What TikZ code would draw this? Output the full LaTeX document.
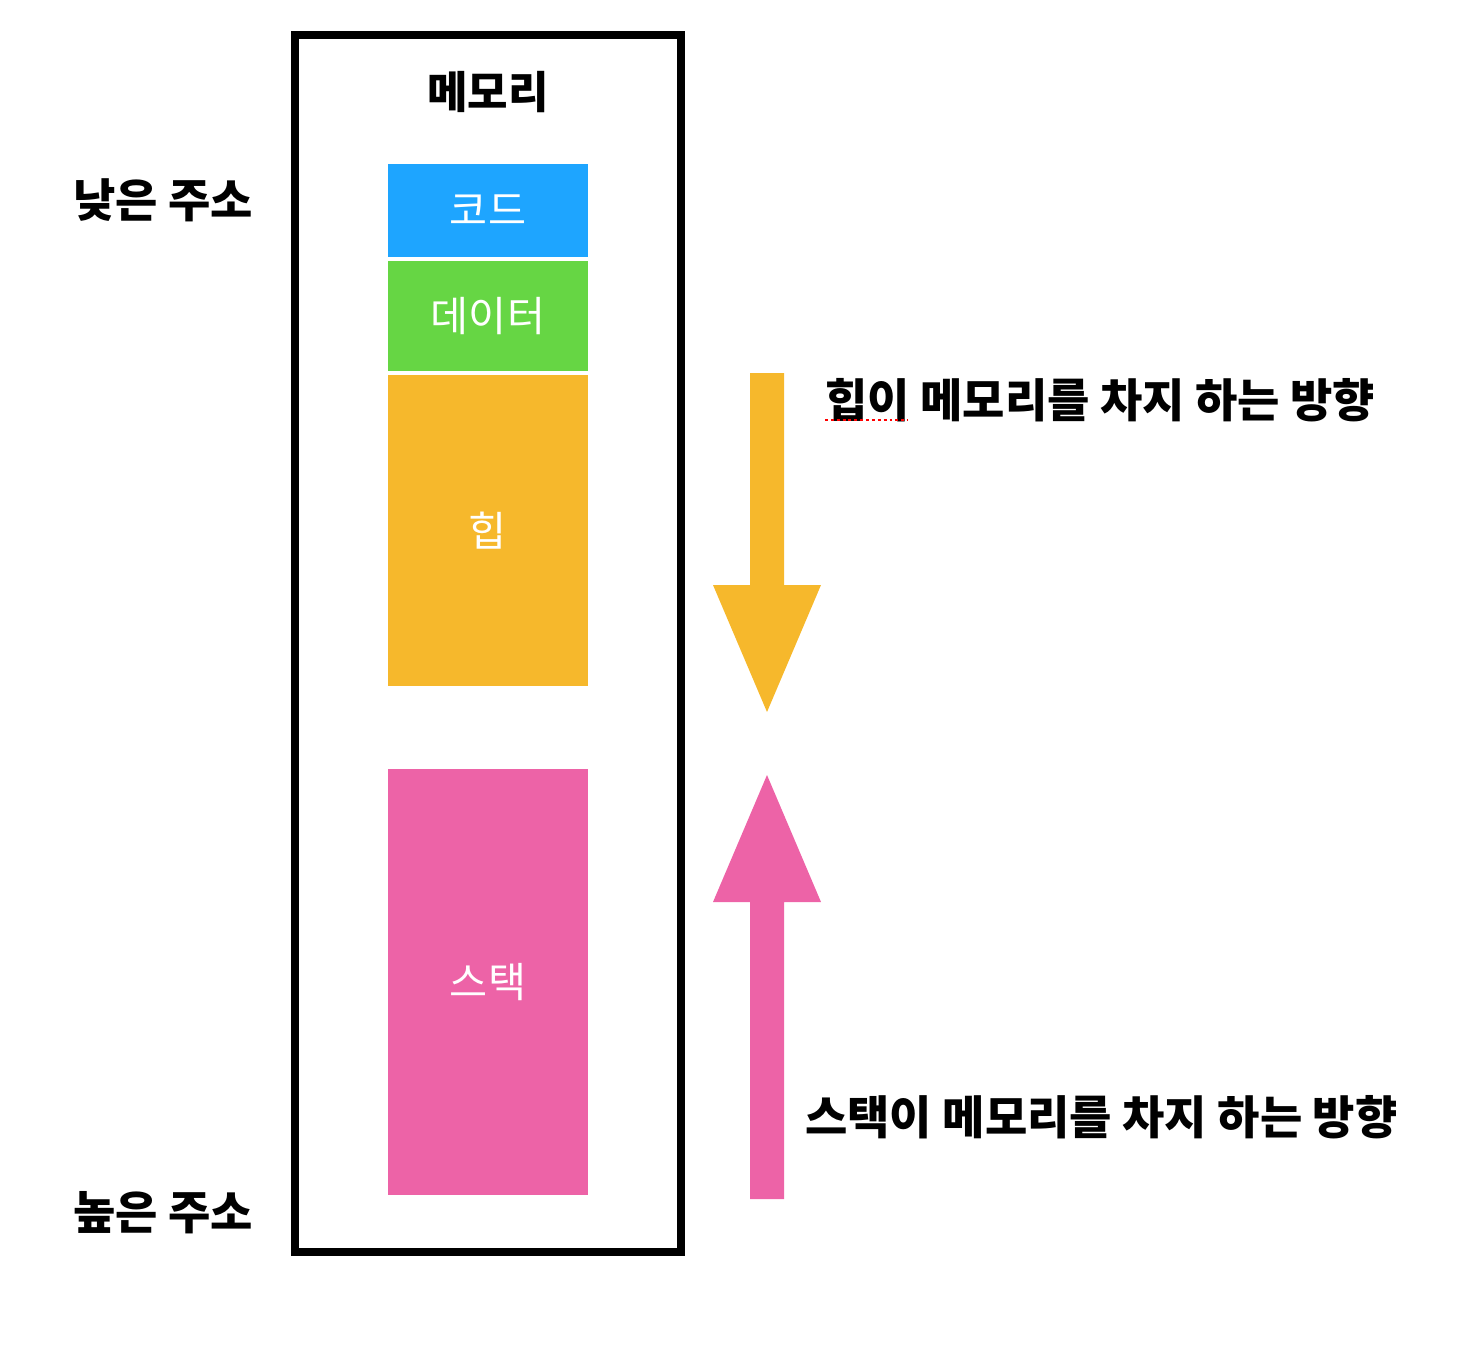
\documentclass[tikz,border=0pt]{standalone}
\usepackage{fontspec}
\setmainfont{Noto Sans CJK KR}
\definecolor{codeblue}{RGB}{30,165,255}
\definecolor{datagreen}{RGB}{102,214,68}
\definecolor{heaporange}{RGB}{246,184,44}
\definecolor{stackpink}{RGB}{237,99,167}
\tikzset{
  seg/.style={draw=none, inner sep=0pt, minimum width=150pt, text=white,
    font=\fontsize{31pt}{37pt}\selectfont},
  lbl/.style={inner sep=0pt, font=\fontsize{34.5pt}{40pt}\selectfont\bfseries},
}
\begin{document}
\begin{tikzpicture}[x=0.75pt,y=-0.75pt]
\useasboundingbox (0,0) rectangle (1464,1368);
% memory frame
\draw[line width=6pt] (295,35) rectangle (681,1252);
\node[lbl, font=\fontsize{33pt}{40pt}\selectfont\bfseries] (mem) at (488,92) {메모리};
% segments
\node[seg, fill=codeblue, minimum height=69.75pt] (code) at (488,210.5) {코드};
\node[seg, fill=datagreen, minimum height=82.5pt] (data) at (488,316) {데이터};
\node[seg, fill=heaporange, minimum height=233.25pt] (heap) at (488,530.5) {힙};
\node[seg, fill=stackpink, minimum height=319.5pt] (stack) at (488,982) {스택};
% address labels
\node[lbl] (low) at (163,200) {낮은 주소};
\node[lbl] (high) at (163,1213) {높은 주소};
% heap arrow
\fill[heaporange] (750,373) -- (784,373) -- (784,585) -- (821,585) -- (767,712) -- (713,585) -- (750,585) -- cycle;
% stack arrow
\fill[stackpink] (750,1199) -- (784,1199) -- (784,902) -- (821,902) -- (767,775) -- (713,902) -- (750,902) -- cycle;
% direction labels
\node[lbl, anchor=west] (heapdir) at (825,400) {힙이 메모리를 차지 하는 방향};
\node[lbl, anchor=west] (stackdir) at (805,1117) {스택이 메모리를 차지 하는 방향};
\draw[red, line width=2.2pt, dash pattern=on 2.2pt off 2.2pt] (825,420) -- (908,420);
\end{tikzpicture}
\end{document}
